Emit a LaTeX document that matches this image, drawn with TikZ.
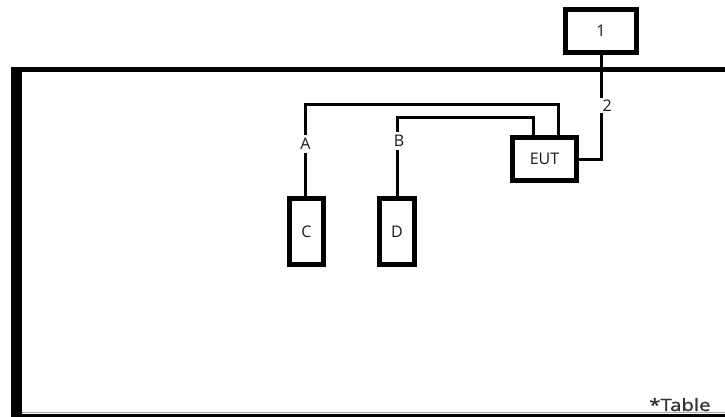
\documentclass[tikz,border=0pt]{standalone}
\usepackage{fontspec}
\setmainfont{Open Sans}
\newfontfamily\tabfont[FakeBold=1.2]{Open Sans}
\begin{document}
\begin{tikzpicture}[x=1pt,y=-1pt,
  box/.style={draw=black,line width=5pt,inner sep=0pt,fill=white},
  wire/.style={draw=black,line width=3pt},
  lbl/.style={inner sep=0pt,text=black!90,font=\fontsize{16}{18}\selectfont},
  gaplbl/.style={inner xsep=0pt,inner ysep=0pt,text=black!90,font=\fontsize{16}{18}\selectfont}]
\useasboundingbox (0,0) rectangle (725,417);
\clip (0,0) rectangle (725,417);
% enclosure
\fill[black] (11,67) rectangle (725,72);
\fill[black] (11,67) rectangle (22,417);
\draw[black!35,line width=1pt] (22,412.5) -- (725,412.5);
\draw[black,line width=3pt] (22,415.5) -- (725,415.5);
% boxes
\node[box,minimum width=71pt,minimum height=43pt] (one) at (601,31) {};
\node[lbl] at (one.center) {1};
\node[box,minimum width=64pt,minimum height=43pt] (eut) at (544.5,159) {};
\node[lbl] at (eut.center) {EUT};
\node[box,minimum width=34pt,minimum height=66pt] (c) at (306.5,231.5) {};
\node[lbl] at (c.center) {C};
\node[box,minimum width=35pt,minimum height=66pt] (d) at (397,231.5) {};
\node[lbl] at (d.center) {D};
% gap labels
\node[gaplbl,anchor=west,minimum height=15pt,inner xsep=1.5pt] (n2) at (601,105.5) {2};
\node[gaplbl,minimum height=18pt] (la) at (305.5,144) {A};
\node[gaplbl,minimum height=17pt] (lb) at (399,141) {B};
\coordinate (ta) at (558,105);
\coordinate (tb) at (533,118);
% connectors
\draw[wire] (one.south -| n2.west) -- (n2.north west);
\draw[wire] (n2.south west) |- (eut.east);
\draw[wire] (eut.north -| ta) -- (ta) -| (la.north);
\draw[wire] (la.south) -- (la.south |- c.north);
\draw[wire] (eut.north -| tb) -- (tb) -| (lb.north -| 397,0);
\draw[wire] (lb.south -| 397,0) -- (d.north -| 397,0);
% table note
\node[anchor=base west,inner sep=0pt,text=black!80,font=\tabfont\fontsize{17}{19}\selectfont] (tab) at (649,411) {\scalebox{1.2}[1]{*Table}};
\end{tikzpicture}
\end{document}
